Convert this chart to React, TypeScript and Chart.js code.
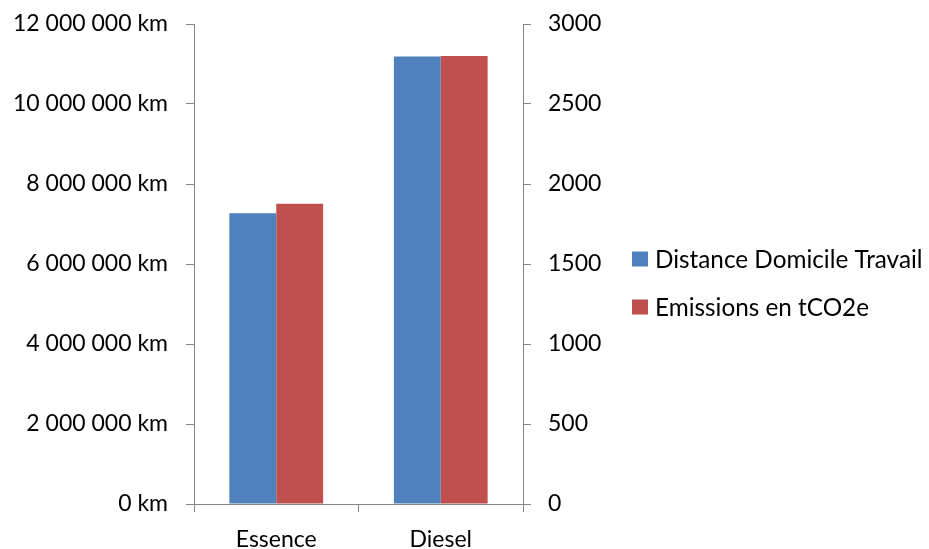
import React, { useEffect, useRef } from "react";
import { Chart, registerables } from "chart.js";

Chart.register(...registerables);

const categories = ["Essence", "Diesel"];
const seriesLabels = ["Distance Domicile Travail", "Emissions en tCO2e"];
const distanceKm = [7270000, 11190000];
const emissionsT = [1877, 2800];
const seriesColors = ["#4F81BD", "#C0504D"];

const FONT = "Lato, 'Open Sans', sans-serif";
const AXIS_COLOR = "#868686";

const formatKm = (v: number) =>
  String(Math.round(v)).replace(/\B(?=(\d{3})+(?!\d))/g, " ") + " km";

// Legend drawn to the right of the plot, one row per dataset
const legendPlugin = {
  id: "sideLegend",
  afterDraw(chart: any) {
    const ctx = chart.ctx;
    const rows = [259, 307];
    ctx.save();
    ctx.font = `24.3px ${FONT}`;
    ctx.textBaseline = "middle";
    ctx.textAlign = "left";
    chart.data.datasets.forEach((ds: any, i: number) => {
      const y = rows[i];
      ctx.fillStyle = ds.backgroundColor;
      ctx.fillRect(632, y - 7.5, 16, 15);
      ctx.fillStyle = "#000";
      ctx.fillText(ds.label, 655, y + 1);
    });
    ctx.restore();
  },
};

export default function App() {
  const canvasRef = useRef<HTMLCanvasElement>(null);

  useEffect(() => {
    if (!canvasRef.current) return;
    const chart = new Chart(canvasRef.current, {
      type: "bar",
      data: {
        labels: categories,
        datasets: [
          {
            label: seriesLabels[0],
            data: distanceKm,
            backgroundColor: seriesColors[0],
            yAxisID: "y",
            categoryPercentage: 0.57,
            barPercentage: 1,
          },
          {
            label: seriesLabels[1],
            data: emissionsT,
            backgroundColor: seriesColors[1],
            yAxisID: "y1",
            categoryPercentage: 0.57,
            barPercentage: 1,
          },
        ],
      },
      options: {
        responsive: false,
        animation: false,
        layout: { padding: { left: 0, top: 24, right: 306, bottom: 0 } },
        plugins: {
          legend: { display: false },
          tooltip: { enabled: false },
        },
        scales: {
          x: {
            offset: true,
            grid: {
              offset: true,
              drawOnChartArea: false,
              drawTicks: true,
              tickLength: 8,
              color: AXIS_COLOR,
            },
            border: { color: AXIS_COLOR, width: 1 },
            ticks: { color: "#000", font: { family: FONT, size: 23 }, padding: 14 },
            afterFit: (s: any) => {
              s.height = 45;
              s.paddingLeft = 0;
              s.paddingRight = 0;
            },
          },
          y: {
            position: "left",
            min: 0,
            max: 12000000,
            ticks: {
              stepSize: 2000000,
              color: "#000",
              font: { family: FONT, size: 23 },
              padding: 18,
              callback: (v: any) => formatKm(Number(v)),
            },
            grid: { drawOnChartArea: false, tickLength: 8, color: AXIS_COLOR },
            border: { color: AXIS_COLOR, width: 1 },
            afterFit: (s: any) => {
              s.width = 194;
              s.paddingTop = 0;
              s.paddingBottom = 0;
            },
          },
          y1: {
            position: "right",
            min: 0,
            max: 3000,
            ticks: {
              stepSize: 500,
              color: "#000",
              font: { family: FONT, size: 23 },
              padding: 17,
              callback: (v: any) => String(v),
            },
            grid: { drawOnChartArea: false, tickLength: 8, color: AXIS_COLOR },
            border: { color: AXIS_COLOR, width: 1 },
            afterFit: (s: any) => {
              s.width = 100;
              s.paddingTop = 0;
              s.paddingBottom = 0;
            },
          },
        },
      },
      plugins: [legendPlugin],
    });
    return () => chart.destroy();
  }, []);

  return (
    <div style={{ position: "fixed", left: 0, top: 0, width: 929, height: 549, background: "#fff" }}>
      <canvas ref={canvasRef} width={929} height={549} />
    </div>
  );
}
